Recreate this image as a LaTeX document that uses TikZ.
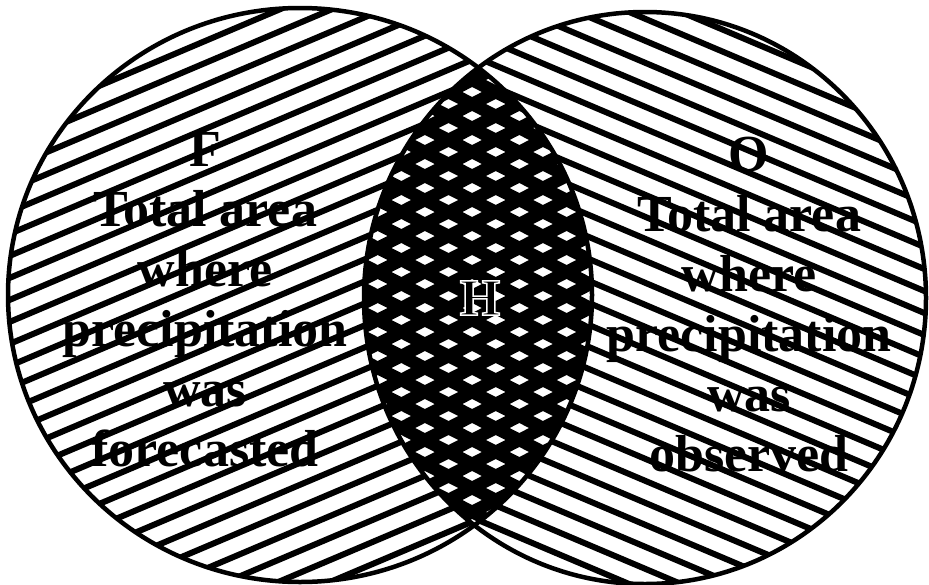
\documentclass[tikz,border=0pt]{standalone}
\usepackage{fontspec}
\setmainfont{Liberation Serif}
% letter drawn with a thin white edge (fill, then white stroke)
\newcommand{\edged}[1]{\special{pdf:literal direct 2 Tr 1 1 1 RG 1.5 w}#1\special{pdf:literal direct 0 Tr 0 G}}
\begin{document}
\begin{tikzpicture}[x=1pt, y=-1pt,
    hatch/.style={line width=6pt, black},
    cross/.style={line width=12.5pt, black},
    rim/.style={line width=4.5pt, black},
    lbl/.style={font=\fontsize{52}{60}\selectfont\bfseries, align=center, inner sep=0pt}]
  \useasboundingbox (0,0) rectangle (929,584);
  % forecast area, lines rising to the right
  \begin{scope}
    \clip (300,295) ellipse [x radius=292, y radius=287];
    \foreach \c in {18,40,...,1010} \draw[hatch] (0,\c) -- (929,\c-394);
  \end{scope}
  % observed area, lines falling to the right
  \begin{scope}
    \clip (645,298) ellipse [x radius=281, y radius=286];
    \foreach \c in {-300,-278,...,600} \draw[hatch] (360,\c) -- (929,\c+241);
  \end{scope}
  % hits: inside both
  \begin{scope}
    \clip (300,295) ellipse [x radius=292, y radius=287];
    \clip (645,298) ellipse [x radius=281, y radius=286];
    \fill[white] (360,0) rectangle (600,584);
    \foreach \k in {-16,...,18} \draw[cross] (360,191+24*\k) -- (600,313+24*\k);
    \foreach \k in {0,...,40} \draw[cross] (360,-175+24*\k) -- (600,-297+24*\k);
  \end{scope}
  \draw[rim] (300,295) ellipse [x radius=292, y radius=287];
  \draw[rim] (645,298) ellipse [x radius=281, y radius=286];
  \node[lbl] (fLabel) at (205,300) {F\\Total area\\where\\precipitation\\was\\forecasted};
  \node[lbl] (oLabel) at (749,305) {O\\Total area\\where\\precipitation\\was\\observed};
  \node[lbl] (hLabel) at (480,298) {\edged{H}};
\end{tikzpicture}
\end{document}
